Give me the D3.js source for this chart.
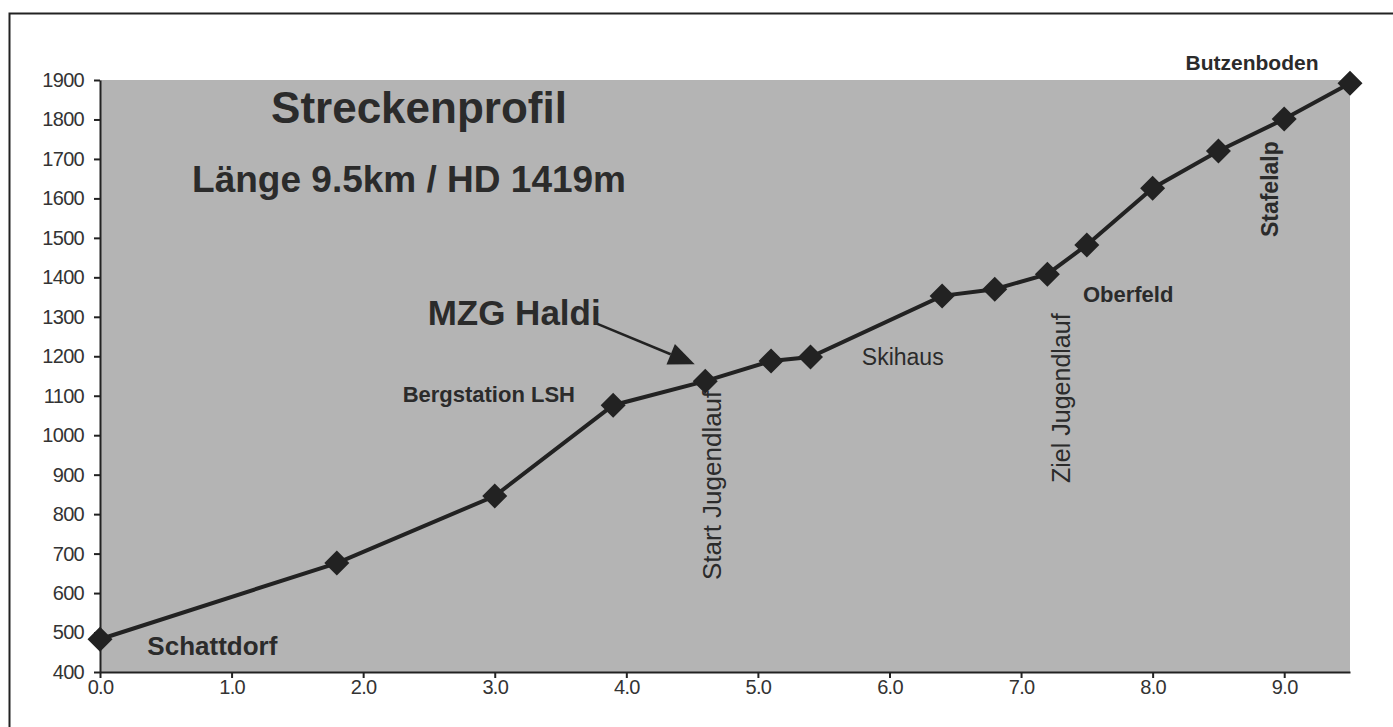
<!DOCTYPE html>
<html>
<head>
<meta charset="utf-8">
<script src="https://cdn.jsdelivr.net/npm/d3@7"></script>
<style>
  body { margin: 0; background: #fff; }
  text { font-family: "Liberation Sans", Arial, sans-serif; fill: #2b2b2b; }
  .tick text { font-size: 20px; fill: #333; letter-spacing: -0.7px; }
</style>
</head>
<body>
<div id="chart"></div>
<script>
// Streckenprofil - km vs. Höhe (m)

// data
var distKm = [0.0, 1.8, 3.0, 3.9, 4.6, 5.1, 5.4, 6.4, 6.8, 7.2, 7.5, 8.0, 8.5, 9.0, 9.5];
var heightM = [483, 676, 846, 1076, 1137, 1188, 1198, 1353, 1370, 1408, 1482, 1626, 1720, 1801, 1892];
var xTicks = [0, 1, 2, 3, 4, 5, 6, 7, 8, 9];
var yTicks = [400, 500, 600, 700, 800, 900, 1000, 1100, 1200, 1300, 1400, 1500, 1600, 1700, 1800, 1900];

var placeNames = ["Schattdorf", "Bergstation LSH", "Start Jugendlauf", "Skihaus", "Ziel Jugendlauf", "Oberfeld", "Stafelalp", "Butzenboden"];

var svgWidth = 1393;
var svgHeight = 727;

var margin = { top: 80, right: 43, bottom: 55, left: 100 };
var width = svgWidth - margin.left - margin.right;
var height = svgHeight - margin.top - margin.bottom;

var svg = d3.select("#chart")
  .append("svg")
  .attr("width", svgWidth)
  .attr("height", svgHeight);

// outer frame (only top and left visible in the scan)
svg.append("path")
  .attr("d", "M9.5," + svgHeight + " V13.5 H" + svgWidth)
  .attr("fill", "none")
  .attr("stroke", "#222")
  .attr("stroke-width", 2);

var chartGroup = svg.append("g")
  .attr("transform", `translate(${margin.left}, ${margin.top})`);

var xScale = d3.scaleLinear().domain([0, 9.5]).range([0, width]);
var yScale = d3.scaleLinear().domain([400, 1900]).range([height, 0]);

// grey plot area
chartGroup.append("rect")
  .attr("width", width)
  .attr("height", height)
  .attr("fill", "#b4b4b4");

// axes
var bottomAxis = d3.axisBottom(xScale).tickValues(xTicks).tickFormat(d3.format(".1f")).tickSize(6).tickSizeOuter(0);
var leftAxis = d3.axisLeft(yScale).tickValues(yTicks).tickFormat(d3.format("d")).tickSize(6).tickSizeOuter(0);

var xAxisG = chartGroup.append("g")
  .attr("transform", `translate(0, ${height})`)
  .call(bottomAxis);
xAxisG.selectAll("text").attr("y", 8);

var yAxisG = chartGroup.append("g").call(leftAxis);
yAxisG.selectAll("text").attr("x", -16);

chartGroup.selectAll(".domain, .tick line")
  .attr("stroke", "#222")
  .attr("stroke-width", 2);

// profile line
var points = distKm.map(function(d, i) { return { km: d, m: heightM[i] }; });

chartGroup.append("path")
  .datum(points)
  .attr("fill", "none")
  .attr("stroke", "#222")
  .attr("stroke-width", 4)
  .attr("d", d3.line().x(d => xScale(d.km)).y(d => yScale(d.m)));

chartGroup.selectAll("path.marker")
  .data(points)
  .enter()
  .append("path")
  .attr("class", "marker")
  .attr("d", "M0,-12.5 L12.5,0 L0,12.5 L-12.5,0 Z")
  .attr("transform", d => `translate(${xScale(d.km)}, ${yScale(d.m)})`)
  .attr("fill", "#222");

// titles (positions in data units)
function label(km, m, txt, size, weight, rotate) {
  var t = chartGroup.append("text")
    .attr("font-size", size + "px")
    .attr("font-weight", weight)
    .text(txt);
  if (rotate) {
    t.attr("transform", `translate(${xScale(km)}, ${yScale(m)}) rotate(-90)`);
  } else {
    t.attr("x", xScale(km)).attr("y", yScale(m));
  }
  return t;
}

label(1.30, 1791, "Streckenprofil", 44, "bold", false);
label(0.70, 1616, "Länge 9.5km / HD 1419m", 37, "bold", false);
label(2.49, 1279, "MZG Haldi", 35, "bold", false);

label(0.36, 443, placeNames[0], 26, "bold", false);
label(2.30, 1084, placeNames[1], 22, "bold", false);
label(4.72, 633, placeNames[2], 26, "normal", true);
label(5.79, 1178, placeNames[3], 23, "normal", false);
label(7.37, 879, placeNames[4], 25, "normal", true);
label(7.47, 1338, placeNames[5], 22, "bold", false);
label(8.95, 1502, placeNames[6], 23, "bold", true);
label(8.25, 1925, placeNames[7], 21, "bold", false);

// arrow pointing at MZG Haldi
var arrowStart = [3.78, 1282];
var arrowEnd = [4.52, 1180];
var x1 = xScale(arrowStart[0]), y1 = yScale(arrowStart[1]);
var x2 = xScale(arrowEnd[0]), y2 = yScale(arrowEnd[1]);
var ang = Math.atan2(y2 - y1, x2 - x1);
var headLen = 26, headW = 11;
var bx = x2 - headLen * Math.cos(ang), by = y2 - headLen * Math.sin(ang);

chartGroup.append("line")
  .attr("x1", x1).attr("y1", y1)
  .attr("x2", bx).attr("y2", by)
  .attr("stroke", "#222")
  .attr("stroke-width", 2.5);

chartGroup.append("path")
  .attr("d", "M" + x2 + "," + y2 +
    " L" + (bx + headW * Math.sin(ang)) + "," + (by - headW * Math.cos(ang)) +
    " L" + (bx - headW * Math.sin(ang)) + "," + (by + headW * Math.cos(ang)) + " Z")
  .attr("fill", "#222");
</script>
</body>
</html>
